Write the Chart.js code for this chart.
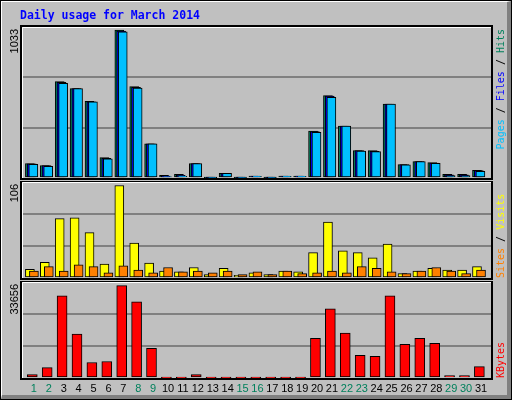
<!DOCTYPE html>
<html><head><meta charset="utf-8">
<script src="https://cdn.jsdelivr.net/npm/chart.js@4/dist/chart.umd.min.js"></script>
<style>
html,body{margin:0;padding:0;background:#fff;}
#frame{position:absolute;left:0;top:0;width:510px;height:398px;border:1px solid #000;background:#c0c0c0;overflow:hidden;}
#inner{position:absolute;left:0;top:0;width:505px;height:393px;border-left:1px solid #fff;border-top:1px solid #fff;border-right:4px solid #808080;border-bottom:4px solid #808080;}
canvas{position:absolute;left:0;}
</style></head>
<body>
<div id="frame"><div id="inner"></div>
<canvas id="c1" style="top:0"></canvas>
<canvas id="c2" style="top:0"></canvas>
<canvas id="c3" style="top:0"></canvas>
</div>
<script>
const titleText = "Daily usage for March 2014";
const days = [1,2,3,4,5,6,7,8,9,10,11,12,13,14,15,16,17,18,19,20,21,22,23,24,25,26,27,28,29,30,31];
const weekend = [1,2,8,9,15,16,22,23,29,30];
const hits  = [101,87,673,625,535,142,1033,638,239,18,25,101,3,32,3,14,3,14,14,328,576,363,191,191,516,94,115,108,25,25,53];
const files = [99,86,668,625,533,138,1027,634,239,14,19,101,3,32,3,13,3,14,13,325,572,362,191,187,516,93,115,105,22,22,52];
const pages = [95,82,662,625,533,134,1022,629,239,9,12,101,3,32,3,12,3,12,12,319,564,362,188,184,516,92,115,102,17,17,47];
const visits = [10,18,68,69,52,16,106,40,17,8,7,12,4,11,3,6,4,8,7,29,64,31,29,23,39,5,8,11,9,9,13];
const sites  = [8,13,8,15,13,6,14,9,6,12,7,8,6,8,4,7,4,8,5,6,8,6,13,11,7,5,8,12,8,5,9];
const kbytes = [1230,3810,29980,15970,5650,6020,33656,27770,10810,100,100,1230,100,100,100,100,100,100,100,14500,25190,16340,8230,7860,29980,12290,14500,12650,860,860,4170];
const maxLabels = ["1033","106","33656"];
const topLegend = [["Pages","#00c0ff"],[" / ","#000"],["Files","#0000ff"],[" / ","#000"],["Hits","#00805c"]];
const midLegend = [["Sites","#ff8000"],[" / ","#000"],["Visits","#ffff00"]];
const botLegend = [["KBytes","#ff0000"]];

const W=512;
const pts=(arr,off)=>arr.map((v,i)=>({x:days[i]+off,y:v}));
function bar(label,arr,off,color,th){return {label,data:pts(arr,off),backgroundColor:color,borderColor:'#000',borderWidth:1,barThickness:th,grouped:false,borderSkipped:false};}

function framePlugin(maxLabel,legend,legendTop,extra){
  return {id:'fr',
    afterDraw(ch){
      const c=ch.ctx,a=ch.chartArea;
      c.save();
      c.strokeStyle='#000';c.lineWidth=2;
      c.strokeRect(a.left-1,a.top-1,a.right-a.left+2,a.bottom-a.top+2);
      c.strokeStyle='#fff';c.lineWidth=1;
      c.beginPath();c.moveTo(a.left+0.5,a.bottom);c.lineTo(a.left+0.5,a.top+0.5);c.lineTo(a.right,a.top+0.5);c.stroke();
      c.font='11px "Liberation Sans"';c.fillStyle='#000';
      c.translate(14,a.top+2);c.rotate(-Math.PI/2);
      c.textAlign='right';c.textBaseline='middle';c.fillText(maxLabel,0,0);
      c.restore();
      c.save();
      c.font='10px "DejaVu Sans Mono"';
      const total=legend.reduce((s,p)=>s+c.measureText(p[0]).width,0);
      c.translate(500,legendTop?a.top+2:a.bottom);c.rotate(-Math.PI/2);
      let x=legendTop?-total:0;
      c.textBaseline='middle';c.textAlign='left';
      for(const p of legend){c.fillStyle=p[1];c.fillText(p[0],x,0);x+=c.measureText(p[0]).width;}
      c.restore();
      if(extra)extra(ch);
    }};
}
function yScale(max){
  return {min:0,max:max,display:true,
    afterFit(s){s.width=0;},
    afterBuildTicks(s){s.ticks=[0,max/3,2*max/3,max].map(v=>({value:v}));},
    ticks:{display:false},border:{display:false},
    grid:{drawTicks:false,color:ctx=>(ctx.index===1||ctx.index===2)?'#808080':'rgba(0,0,0,0)',lineWidth:2}};
}
function xScale(show){
  const s={type:'linear',min:0.2,max:31.67,offset:false,grid:{display:false,drawTicks:false},border:{display:false}};
  if(!show){s.display=false;return s;}
  s.afterFit=sc=>{sc.height=23;};
  s.afterBuildTicks=sc=>{sc.ticks=days.map(d=>({value:d}));};
  s.ticks={autoSkip:false,maxRotation:0,padding:4,font:{family:'Liberation Sans',size:11},
    color:ctx=>weekend.includes(ctx.tick.value)?'#00805c':'#000',callback:v=>String(v)};
  return s;
}
const base={responsive:false,animation:false,devicePixelRatio:1,plugins:{legend:{display:false},tooltip:{enabled:false}}};
function mk(id,top,h,pad,datasets,ymax,idx,legend,legendTop,showX,extra){
  const cv=document.getElementById(id);cv.width=W;cv.height=h;cv.style.top=top+'px';cv.style.width=W+'px';cv.style.height=h+'px';
  new Chart(cv,{type:'bar',data:{datasets},
    options:Object.assign({},base,{layout:{padding:{left:21,right:22,top:pad[0],bottom:pad[1]}},
      scales:{x:xScale(showX),y:yScale(ymax)}}),
    plugins:[framePlugin(maxLabels[idx],legend,legendTop,extra)]});
}
mk('c1',0,180,[26,3],[bar('Pages',pages,-0.04,'#00c0ff',9),bar('Files',files,-0.15,'#0000ff',9),bar('Hits',hits,-0.27,'#00805c',9)],1055,0,topLegend,true,false,
  ch=>{const c=ch.ctx;c.save();c.font='bold 11.5px "DejaVu Sans Mono"';c.fillStyle='#0000ff';c.textBaseline='middle';c.fillText(titleText,19,15);c.restore();});
mk('c2',180,100,[1,3],[bar('Sites',sites,0,'#ff8000',9),bar('Visits',visits,-0.27,'#ffff00',9)],110,1,midLegend,false,false);
mk('c3',280,120,[1,0],[bar('KBytes',kbytes,-0.11,'#ff0000',10)],35000,2,botLegend,false,true);
</script>
</body></html>
